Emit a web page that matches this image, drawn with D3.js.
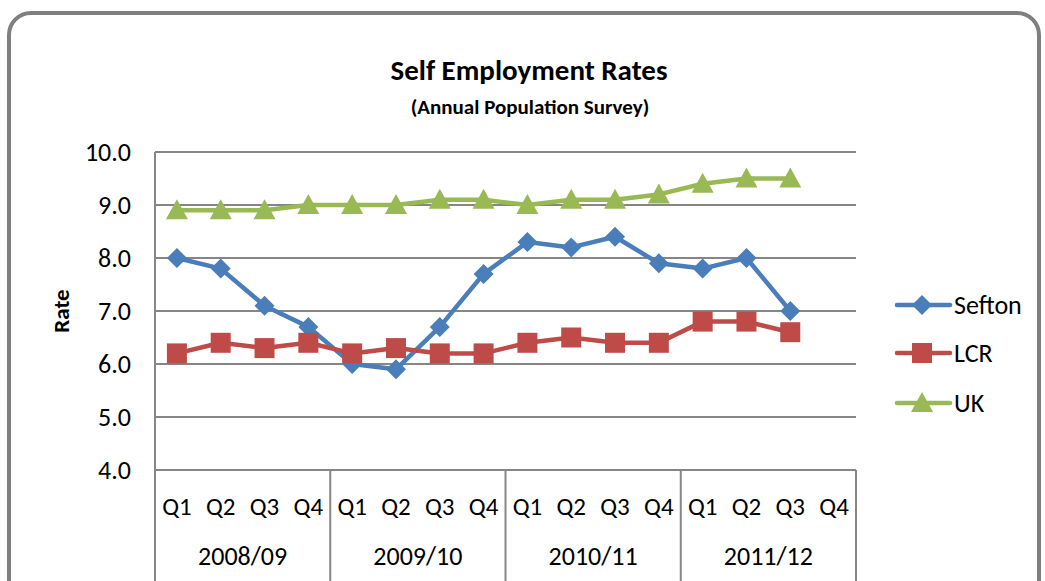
<!DOCTYPE html>
<html><head><meta charset="utf-8">
<script src="https://cdn.jsdelivr.net/npm/d3@7"></script>
<style>
html,body{margin:0;padding:0;background:#fff;}
svg text{font-family:Carlito,Calibri,"Open Sans","Noto Sans",sans-serif;fill:#000;}
</style></head><body>
<svg id="chart" width="1045" height="581"></svg>
<script>
const years = ["2008/09","2009/10","2010/11","2011/12"];
const quarters = ["Q1","Q2","Q3","Q4"];
const yTicks = [4,5,6,7,8,9,10];
const sefton = [8.0,7.8,7.1,6.7,6.0,5.9,6.7,7.7,8.3,8.2,8.4,7.9,7.8,8.0,7.0,null];
const lcr    = [6.2,6.4,6.3,6.4,6.2,6.3,6.2,6.2,6.4,6.5,6.4,6.4,6.8,6.8,6.6,null];
const uk     = [8.9,8.9,8.9,9.0,9.0,9.0,9.1,9.1,9.0,9.1,9.1,9.2,9.4,9.5,9.5,null];
const seriesNames = ["Sefton","LCR","UK"];
const colors = ["#4A7EBB","#BE4B48","#98B954"];

const svg = d3.select("#chart");
svg.append("rect").attr("x",9).attr("y",13).attr("width",1030).attr("height",600)
  .attr("rx",22).attr("fill","#fff").attr("stroke","#7f7f7f").attr("stroke-width",4);

const L=155,R=856,T=152,B=470;
const cats = [];
years.forEach(y=>quarters.forEach(q=>cats.push(y+"|"+q)));
const x = d3.scaleBand().domain(cats).range([L,R]);
const xc = d=>x(d)+x.bandwidth()/2;
const y = d3.scaleLinear().domain([4,10]).range([B,T]);

svg.append("g").selectAll("line").data(yTicks).join("line")
  .attr("x1",L).attr("x2",R).attr("y1",d=>y(d)).attr("y2",d=>y(d))
  .attr("stroke","#868686").attr("stroke-width",2);
svg.append("line").attr("x1",L).attr("x2",L).attr("y1",T).attr("y2",581).attr("stroke","#868686").attr("stroke-width",2);
svg.append("g").selectAll("text").data(yTicks).join("text")
  .attr("x",131).attr("y",d=>y(d)).attr("dy","0.35em").attr("text-anchor","end")
  .style("font-size","26px").text(d=>d.toFixed(1));
svg.append("text").attr("transform","translate(69,311) rotate(-90)").attr("text-anchor","middle")
  .style("font-size","23px").style("font-weight","bold").text("Rate");

const yearScale = d3.scaleBand().domain(years).range([L,R]);
svg.append("g").selectAll("line").data(years).join("line")
  .attr("x1",d=>yearScale(d)+yearScale.bandwidth()).attr("x2",d=>yearScale(d)+yearScale.bandwidth())
  .attr("y1",B).attr("y2",581).attr("stroke","#868686").attr("stroke-width",2);
svg.append("g").selectAll("text").data(cats).join("text")
  .attr("x",d=>xc(d)).attr("y",506).attr("dy","0.35em").attr("text-anchor","middle")
  .style("font-size","25px").text(d=>d.split("|")[1]);
svg.append("g").selectAll("text").data(years).join("text")
  .attr("x",d=>yearScale(d)+yearScale.bandwidth()/2).attr("y",556).attr("dy","0.35em").attr("text-anchor","middle")
  .style("font-size","26px").text(d=>d);

const data = [sefton,lcr,uk];
const line = d3.line().defined(d=>d.v!=null).x(d=>xc(d.c)).y(d=>y(d.v));
function marker(g,i,cx,cy){
  if(i===0){
    g.append("path").attr("d",`M${cx},${cy-10}L${cx+10},${cy}L${cx},${cy+10}L${cx-10},${cy}Z`).attr("fill",colors[i]);
  } else if(i===1){
    g.append("rect").attr("x",cx-10).attr("y",cy-10).attr("width",20).attr("height",20).attr("fill",colors[i]);
  } else {
    g.append("path").attr("d",`M${cx},${cy-11}L${cx+11},${cy+9}L${cx-11},${cy+9}Z`).attr("fill",colors[i]);
  }
}
data.forEach((s,i)=>{
  const pts = s.map((v,k)=>({c:cats[k],v}));
  const g = svg.append("g");
  g.append("path").datum(pts).attr("d",line).attr("fill","none").attr("stroke",colors[i])
    .attr("stroke-width",4.5).attr("stroke-linejoin","round");
  pts.filter(p=>p.v!=null).forEach(p=>marker(g,i,xc(p.c),y(p.v)));
});

svg.append("text").attr("x",529).attr("y",80).attr("text-anchor","middle")
  .style("font-size","29px").style("font-weight","bold").text("Self Employment Rates");
svg.append("text").attr("x",530).attr("y",114).attr("text-anchor","middle")
  .style("font-size","21px").style("font-weight","bold").text("(Annual Population Survey)");

const legY=[305,353,403];
seriesNames.forEach((n,i)=>{
  const g=svg.append("g");
  g.append("line").attr("x1",897).attr("x2",950).attr("y1",legY[i]).attr("y2",legY[i])
    .attr("stroke",colors[i]).attr("stroke-width",4.5).attr("stroke-linecap","round");
  marker(g,i,922,legY[i]);
  g.append("text").attr("x",954).attr("y",legY[i]).attr("dy","0.35em").style("font-size","26px").text(n);
});
</script></body></html>
